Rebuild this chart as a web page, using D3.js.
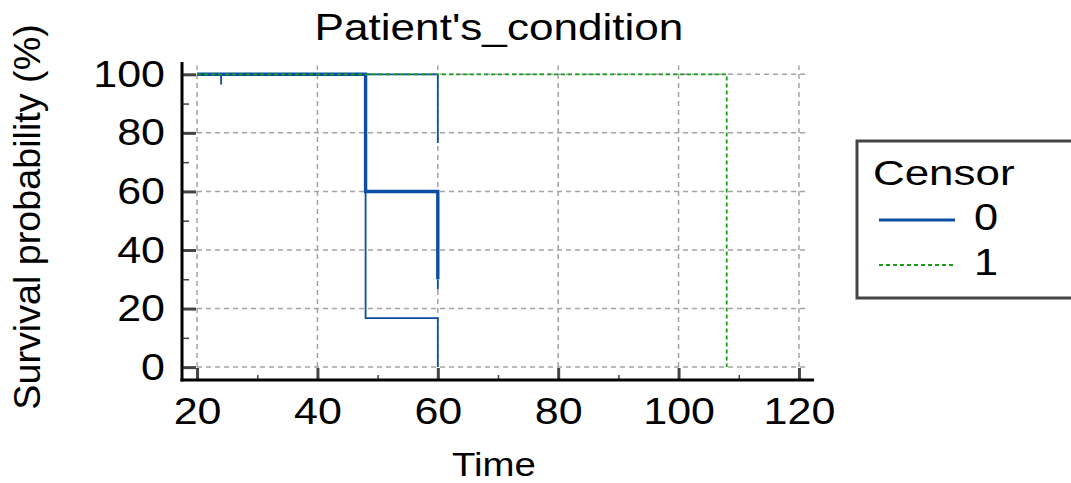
<!DOCTYPE html>
<html>
<head>
<meta charset="utf-8">
<script src="https://cdn.jsdelivr.net/npm/d3@7"></script>
<style>
    html, body { margin: 0; padding: 0; background: #fff; }
    svg { display: block; font-family: "Liberation Sans", Arial, sans-serif; }
</style>
</head>
<body>
<div class="chart"></div>
<script>
// Kaplan-Meier steps
const blueThick = { time: [20, 48, 60], surv: [100, 60, 30] };
const blueTail = { time: [60, 60], surv: [30, 26.5] };
const blueEarly = { time: [20, 24], surv: [100, 96.5] };
const blueLow = { time: [20, 48, 60], surv: [100, 16.7, 0] };
const blueLate = { time: [48, 60], surv: [100, 76.5] };
const greenSteps = { time: [20, 108], surv: [100, 0] };

const xTicks = [20, 40, 60, 80, 100, 120];
const xMinor = [30, 50, 70, 90, 110];
const yTicks = [0, 20, 40, 60, 80, 100];
const yMinor = [10, 30, 50, 70, 90];
const legendLabels = ["0", "1"];

const Chart = {
    blue: "#0b4ea2",
    green: "#1a9e1a",
    init: function() {
        this.svg = d3.select(".chart").append("svg")
            .attr("width", 1071)
            .attr("height", 483);
        this.x = d3.scaleLinear().domain([17.5, 122.5]).range([182, 814]);
        this.y = d3.scaleLinear().domain([-4.4, 104.2]).range([380, 62]);
        this._grid();
        this._curves();
        this._axes();
        this._texts();
        this._legend();
    },
    _grid: function() {
        const x = this.x, y = this.y;
        const g = this.svg.append("g")
            .attr("stroke", "#a3a3a3")
            .attr("stroke-width", 1.5)
            .attr("stroke-dasharray", "5,4");
        g.selectAll(".h").data(yTicks).enter().append("line")
            .attr("x1", x(20)).attr("x2", x(121.5))
            .attr("y1", d => y(d)).attr("y2", d => y(d));
        g.selectAll(".v").data(xTicks).enter().append("line")
            .attr("x1", d => x(d)).attr("x2", d => x(d))
            .attr("y1", y(0)).attr("y2", y(103));
    },
    _curves: function() {
        const x = this.x, y = this.y;
        const line = d3.line()
            .x(d => x(d[0]))
            .y(d => y(d[1]))
            .curve(d3.curveStepAfter);
        const pts = s => s.time.map((t, i) => [t, s.surv[i]]);
        const blues = [
            [blueLow, 1.8],
            [blueLate, 1.8],
            [blueEarly, 1.8],
            [blueTail, 1.8],
            [blueThick, 3.4]
        ];
        blues.forEach(b => {
            this.svg.append("path")
                .attr("d", line(pts(b[0])))
                .attr("fill", "none")
                .attr("stroke", this.blue)
                .attr("stroke-width", b[1]);
        });
        this.svg.append("path")
            .attr("d", line(pts(greenSteps)))
            .attr("fill", "none")
            .attr("stroke", this.green)
            .attr("stroke-width", 1.8)
            .attr("stroke-dasharray", "4,3");
    },
    _axes: function() {
        const x = this.x, y = this.y;
        const sx = 1.14;

        const yAxis = this.svg.append("g")
            .attr("transform", "translate(182,0)")
            .call(d3.axisLeft(y).tickValues(yTicks).tickSizeInner(-14).tickSizeOuter(0).tickPadding(17));
        yAxis.select(".domain").remove();
        yAxis.selectAll(".tick line").attr("stroke", "#444").attr("stroke-width", 3);
        yAxis.selectAll(".tick text")
            .attr("font-size", 37.7)
            .attr("font-family", "Liberation Sans, Arial, sans-serif")
            .attr("fill", "#000")
            .attr("x", -17 / sx)
            .attr("transform", "scale(" + sx + ",1)");

        this.svg.append("g")
            .attr("transform", "translate(182,0)")
            .call(d3.axisLeft(y).tickValues(yMinor).tickSizeInner(-7).tickSizeOuter(0).tickFormat(""))
            .call(g => g.select(".domain").remove())
            .selectAll(".tick line").attr("stroke", "#444").attr("stroke-width", 1.5);

        const xAxis = this.svg.append("g")
            .attr("transform", "translate(0,380)")
            .call(d3.axisBottom(x).tickValues(xTicks).tickSizeInner(-12).tickSizeOuter(0).tickPadding(17));
        xAxis.select(".domain").remove();
        xAxis.selectAll(".tick line").attr("stroke", "#444").attr("stroke-width", 3);
        xAxis.selectAll(".tick text")
            .attr("font-size", 37.7)
            .attr("font-family", "Liberation Sans, Arial, sans-serif")
            .attr("fill", "#000")
            .attr("transform", "scale(" + sx + ",1)");

        this.svg.append("g")
            .attr("transform", "translate(0,380)")
            .call(d3.axisBottom(x).tickValues(xMinor).tickSizeInner(-5).tickSizeOuter(0).tickFormat(""))
            .call(g => g.select(".domain").remove())
            .selectAll(".tick line").attr("stroke", "#444").attr("stroke-width", 1.5);

        // axis lines
        this.svg.append("line")
            .attr("x1", 182).attr("x2", 182).attr("y1", 62).attr("y2", 381.5)
            .attr("stroke", "#000").attr("stroke-width", 3);
        this.svg.append("line")
            .attr("x1", 180.5).attr("x2", 814).attr("y1", 380).attr("y2", 380)
            .attr("stroke", "#000").attr("stroke-width", 3);
    },
    _texts: function() {
        this.svg.append("text")
            .attr("transform", "translate(499,40) scale(1.17,1)")
            .attr("text-anchor", "middle")
            .attr("font-size", 37.7)
            .text("Patient's_condition");
        this.svg.append("text")
            .attr("transform", "translate(494,476) scale(1.13,1)")
            .attr("text-anchor", "middle")
            .attr("font-size", 34)
            .text("Time");
        this.svg.append("text")
            .attr("transform", "translate(40,217) rotate(-90)")
            .attr("text-anchor", "middle")
            .attr("font-size", 37.7)
            .text("Survival probability (%)");
    },
    _legend: function() {
        const lg = this.svg.append("g");
        lg.append("rect")
            .attr("x", 857).attr("y", 141)
            .attr("width", 240).attr("height", 157)
            .attr("fill", "#fff")
            .attr("stroke", "#444")
            .attr("stroke-width", 3);
        lg.append("text")
            .attr("transform", "translate(873,185) scale(1.22,1)")
            .attr("font-size", 36)
            .text("Censor");
        const colors = [this.blue, this.green];
        const dashes = [null, "4,3"];
        const widths = [3, 1.8];
        const rows = lg.selectAll(".row").data(legendLabels).enter().append("g")
            .attr("transform", (d, i) => "translate(0," + (220 + i * 45) + ")");
        rows.append("line")
            .attr("x1", 879).attr("x2", 955)
            .attr("stroke", (d, i) => colors[i])
            .attr("stroke-width", (d, i) => widths[i])
            .attr("stroke-dasharray", (d, i) => dashes[i]);
        rows.append("text")
            .attr("transform", "translate(974,10) scale(1.15,1)")
            .attr("font-size", 37.7)
            .text(d => d);
    }
};

Chart.init();
</script>
</body>
</html>
